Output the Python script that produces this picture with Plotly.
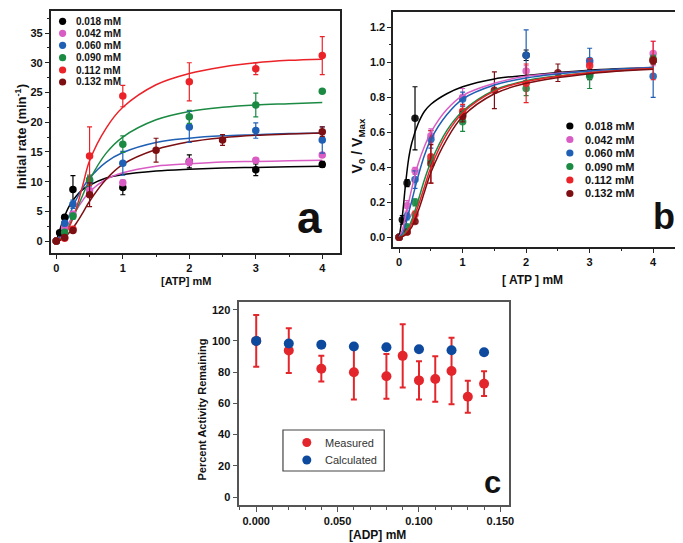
import plotly.graph_objects as go

W, H = 683, 543
FONT = "Liberation Sans"

# ---------------- Panel a data ----------------
series_names = ["0.018 mM", "0.042 mM", "0.060 mM", "0.090 mM", "0.112 mM", "0.132 mM"]
series_colors = ["#000000", "#d95cc4", "#1f5fb4", "#1b8a42", "#ec2229", "#7d0f12"]

a_x = [
    [0, 0.05, 0.125, 0.25, 1, 2, 3, 4],
    [0, 0.125, 0.25, 0.5, 1, 2, 3, 4],
    [0, 0.125, 0.25, 0.5, 1, 2, 3, 4],
    [0, 0.125, 0.25, 0.5, 1, 2, 3, 4],
    [0, 0.125, 0.25, 0.5, 1, 2, 3, 4],
    [0, 0.125, 0.25, 0.5, 1.5, 2.5, 4],
]
a_y = [
    [0, 1.4, 4.0, 8.7, 9.0, 13.4, 12.0, 12.9],
    [0, 2.3, 4.5, 8.5, 9.8, 13.3, 13.6, 14.5],
    [0, 3.0, 6.2, 10.1, 13.1, 19.2, 18.6, 17.0],
    [0, 1.5, 4.2, 10.3, 16.3, 20.9, 22.9, 25.2],
    [0, 0.5, 2.0, 14.3, 24.4, 26.8, 29.0, 31.2],
    [0, 0.6, 1.8, 7.8, 15.3, 17.0, 18.4],
]
a_err = [
    [0, 0.3, 0.4, 2.3, 1.2, 1.1, 1.0, 0.5],
    [0, 0.3, 0.5, 0.8, 0.4, 0.6, 0.4, 0.4],
    [0, 0.4, 0.7, 0.8, 2.0, 2.6, 1.3, 2.2],
    [0, 0.2, 0.5, 0.8, 1.4, 1.1, 2.0, 0],
    [0, 0.2, 0.4, 4.9, 1.8, 3.2, 1.0, 3.2],
    [0, 0.1, 0.2, 2.0, 2.0, 0.9, 0.8],
]
# fitted curves
a_fit_x = [0, 0.05, 0.1, 0.2, 0.3, 0.4, 0.5, 0.75, 1, 1.5, 2, 2.5, 3, 3.5, 4]
a_fit_y = [
    [0, 1.8, 3.5, 6.0, 7.6, 8.7, 9.4, 10.6, 11.2, 11.8, 12.1, 12.3, 12.4, 12.5, 12.6],
    [0, 0.5, 1.3, 3.3, 5.2, 6.9, 8.3, 10.4, 11.5, 12.6, 13.0, 13.3, 13.4, 13.5, 13.6],
    [0, 0.7, 1.8, 4.5, 7.0, 9.0, 10.6, 13.3, 14.9, 16.6, 17.3, 17.7, 17.9, 18.1, 18.2],
    [0, 0.25, 0.8, 2.8, 5.2, 7.8, 10.3, 14.8, 17.5, 20.4, 21.8, 22.5, 22.9, 23.1, 23.3],
    [0, 0.15, 0.6, 2.5, 5.5, 9.5, 13.5, 19.0, 22.5, 26.3, 28.2, 29.3, 30.0, 30.4, 30.6],
    [0, 0.1, 0.4, 1.5, 3.0, 4.8, 6.7, 10.4, 12.9, 15.4, 16.7, 17.4, 17.8, 18.0, 18.2],
]

# ---------------- Panel b data ----------------
b_x = [
    [0, 0.05, 0.125, 0.25, 1, 2, 3, 4],
    [0, 0.125, 0.25, 0.5, 1, 2, 3, 4],
    [0, 0.125, 0.25, 0.5, 1, 2, 3, 4],
    [0, 0.125, 0.25, 0.5, 1, 2, 3, 4],
    [0, 0.125, 0.25, 0.5, 1, 2, 3, 4],
    [0, 0.125, 0.25, 0.5, 1, 1.5, 2.5, 4],
]
b_y = [
    [0, 0.10, 0.31, 0.68, 0.70, 1.04, 0.93, 1.01],
    [0, 0.18, 0.38, 0.58, 0.80, 0.95, 1.00, 1.05],
    [0, 0.12, 0.33, 0.56, 0.79, 1.04, 1.01, 0.92],
    [0, 0.06, 0.20, 0.44, 0.66, 0.85, 0.92, 1.02],
    [0, 0.03, 0.13, 0.46, 0.72, 0.88, 0.98, 1.01],
    [0, 0.03, 0.09, 0.42, 0.69, 0.84, 0.94, 1.01],
]
b_err = [
    [0, 0.025, 0.02, 0.18, 0.03, 0.03, 0.03, 0.02],
    [0, 0.03, 0.02, 0.04, 0.05, 0.03, 0.02, 0.07],
    [0, 0.02, 0.05, 0.05, 0.04, 0.145, 0.07, 0.12],
    [0, 0.01, 0.02, 0.03, 0.055, 0.04, 0.07, 0.02],
    [0, 0.01, 0.02, 0.15, 0.04, 0.11, 0.04, 0.11],
    [0, 0.01, 0.01, 0.11, 0.03, 0.105, 0.05, 0.02],
]
b_fit_x = [0, 0.05, 0.1, 0.15, 0.2, 0.3, 0.4, 0.5, 0.75, 1, 1.5, 2, 3, 4]
b_fit_y = [
    [0, 0.12, 0.30, 0.45, 0.54, 0.65, 0.72, 0.76, 0.82, 0.86, 0.905, 0.925, 0.955, 0.97],
    [0, 0.04, 0.12, 0.20, 0.28, 0.42, 0.52, 0.60, 0.73, 0.81, 0.88, 0.92, 0.95, 0.97],
    [0, 0.02, 0.07, 0.14, 0.21, 0.35, 0.47, 0.56, 0.70, 0.79, 0.87, 0.91, 0.95, 0.97],
    [0, 0.01, 0.03, 0.06, 0.10, 0.21, 0.33, 0.43, 0.61, 0.72, 0.84, 0.895, 0.94, 0.965],
    [0, 0.005, 0.02, 0.045, 0.08, 0.18, 0.29, 0.40, 0.59, 0.71, 0.835, 0.89, 0.94, 0.965],
    [0, 0.004, 0.015, 0.035, 0.06, 0.15, 0.26, 0.37, 0.56, 0.69, 0.82, 0.88, 0.935, 0.96],
]

# ---------------- Panel c data ----------------
c_meas_x = [0, 0.02, 0.04, 0.06, 0.08, 0.09, 0.10, 0.11, 0.12, 0.13, 0.14]
c_meas_y = [100, 93.8, 82.2, 79.9, 77.3, 90.4, 74.7, 75.6, 80.7, 64.2, 72.6]
c_meas_err = [16.6, 14.3, 8.2, 17.4, 14.3, 20.2, 12.3, 14.5, 21.3, 10.2, 7.9]
c_calc_x = [0, 0.02, 0.04, 0.06, 0.08, 0.10, 0.12, 0.14]
c_calc_y = [100, 98.3, 97.6, 96.4, 95.9, 94.6, 94.0, 92.7]

fig = go.Figure()

def px(xp):
    return xp / W

def py(yp):
    return 1 - yp / H

# panel a
for i in range(6):
    fig.add_trace(go.Scatter(x=a_fit_x, y=a_fit_y[i], mode="lines", line=dict(color=series_colors[i], width=1.5, shape="spline"),
                             xaxis="x", yaxis="y", showlegend=False, hoverinfo="skip"))
for i in range(6):
    fig.add_trace(go.Scatter(x=a_x[i], y=a_y[i], mode="markers", name=series_names[i],
                             marker=dict(color=series_colors[i], size=7.5),
                             error_y=dict(type="data", array=a_err[i], color=series_colors[i], thickness=1.2, width=2.5),
                             xaxis="x", yaxis="y", showlegend=False))
# panel b
for i in range(6):
    fig.add_trace(go.Scatter(x=b_x[i], y=b_y[i], mode="markers", name=series_names[i],
                             marker=dict(color=series_colors[i], size=7.5, opacity=0.9),
                             error_y=dict(type="data", array=b_err[i], color=series_colors[i], thickness=1.2, width=2.5),
                             xaxis="x2", yaxis="y2", showlegend=False))
for i in range(6):
    fig.add_trace(go.Scatter(x=b_fit_x, y=b_fit_y[i], mode="lines", line=dict(color=series_colors[i], width=1.5, shape="spline"),
                             xaxis="x2", yaxis="y2", showlegend=False, hoverinfo="skip"))
# panel c
fig.add_trace(go.Scatter(x=c_meas_x, y=c_meas_y, mode="markers", name="Measured",
                         marker=dict(color="#e3262b", size=10),
                         error_y=dict(type="data", array=c_meas_err, color="#e3262b", thickness=2, width=3),
                         xaxis="x3", yaxis="y3", showlegend=False))
fig.add_trace(go.Scatter(x=c_calc_x, y=c_calc_y, mode="markers", name="Calculated",
                         marker=dict(color="#0d4a9e", size=10),
                         xaxis="x3", yaxis="y3", showlegend=False))

tickfont = dict(family=FONT, size=11, color="#111", weight="bold")
common = dict(showline=True, mirror=True, linecolor="#222", linewidth=1.5, ticks="outside", ticklen=4,
              tickwidth=1, tickcolor="#222", showgrid=False, zeroline=False, tickfont=tickfont)

fig.update_layout(
    width=W, height=H, margin=dict(l=0, r=0, t=0, b=0),
    paper_bgcolor="white", plot_bgcolor="white", showlegend=False,
    xaxis=dict(domain=[px(43), px(334)], range=[-0.085, 4.26], anchor="y", tickvals=[0, 1, 2, 3, 4],
               minor=dict(dtick=0.5, ticklen=2, ticks="outside", tickcolor="#222"), **common),
    yaxis=dict(domain=[py(245), py(3)], range=[-2, 38.7], anchor="x", dtick=5,
               minor=dict(dtick=2.5, ticklen=2, ticks="outside", tickcolor="#222"), **common),
    xaxis2=dict(domain=[px(388), px(680)], range=[-0.094, 4.47], anchor="y2", tickvals=[0, 1, 2, 3, 4],
                minor=dict(dtick=0.5, ticklen=2, ticks="outside", tickcolor="#222"), **common),
    yaxis2=dict(domain=[py(239), py(4)], range=[-0.055, 1.287], anchor="x2", dtick=0.2, tickformat=".1f",
                minor=dict(dtick=0.1, ticklen=2, ticks="outside", tickcolor="#222"), **common),
    xaxis3=dict(domain=[px(233), px(505)], range=[-0.0104, 0.1555], anchor="y3", tickvals=[0, 0.05, 0.1, 0.15],
                tickformat=".3f", minor=dict(dtick=0.01, ticklen=3, ticks="outside", tickcolor="#555"),
                **{**common, "linecolor": "#555", "tickcolor": "#555", "ticklen": 5}),
    yaxis3=dict(domain=[py(497), py(294)], range=[-5.1, 124.9], anchor="x3", dtick=20,
                **{**common, "linecolor": "#555", "tickcolor": "#555", "ticklen": 5}),
)

ann = []
def add_text(text, x, y, size, xanchor="center", weight="bold", angle=0, color="#111"):
    ann.append(dict(text=text, x=px(x), y=py(y), xref="paper", yref="paper", showarrow=False,
                    xanchor=xanchor, yanchor="middle", textangle=angle,
                    font=dict(family=FONT, size=size, color=color, weight=weight)))

add_text("Initial rate (min<sup>-1</sup>)", 13, 128, 13, angle=-90)
add_text("[ATP] mM", 180, 273, 11)
add_text("V<sub>0</sub> / V<sub>Max</sub>", 353, 138, 14, angle=-90)
add_text("[ ATP ] mM", 528, 272, 12)
add_text("Percent Activity Remaining", 195, 402, 11, angle=-90)
add_text("[ADP] mM", 372, 527, 12)
add_text("a", 304, 209, 44)
add_text("b", 661, 208, 36)
add_text("c", 488, 474, 31)

shapes = []
def dot(x, y, color, r):
    shapes.append(dict(type="circle", xref="paper", yref="paper", xsizemode="pixel", ysizemode="pixel",
                       xanchor=px(x), yanchor=py(y), x0=-r, x1=r, y0=-r, y1=r,
                       fillcolor=color, line=dict(width=0)))

a_leg_y = [13.3, 25.3, 37.3, 49.7, 62, 74]
for i in range(6):
    dot(55, a_leg_y[i], series_colors[i], 3.6)
    add_text(series_names[i], 66, a_leg_y[i], 10, xanchor="left")

b_leg_y = [118, 131.5, 145, 158.5, 172, 185.5]
for i in range(6):
    dot(566, b_leg_y[i], series_colors[i], 3.6)
    add_text(series_names[i], 579, b_leg_y[i], 11, xanchor="left")

shapes.append(dict(type="rect", xref="paper", yref="paper", x0=px(277), x1=px(379), y0=py(463), y1=py(422),
                   line=dict(color="#444", width=1.2), fillcolor="white"))
dot(301, 434.5, "#e3262b", 4.5)
dot(301, 452, "#0d4a9e", 4.5)
add_text("Measured", 317, 434.5, 11, xanchor="left", weight="normal", color="#333")
add_text("Calculated", 317, 452, 11, xanchor="left", weight="normal", color="#333")

fig.update_layout(annotations=ann, shapes=shapes)
fig.write_html("out.html")
